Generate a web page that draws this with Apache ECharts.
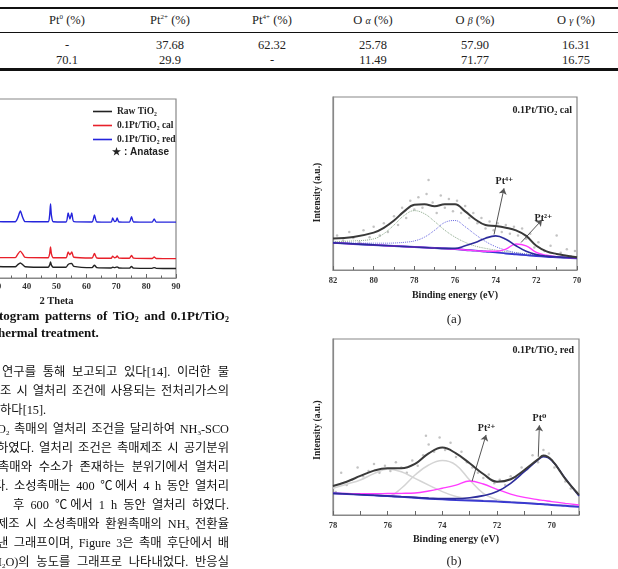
<!DOCTYPE html>
<html>
<head>
<meta charset="utf-8">
<script src="https://cdn.jsdelivr.net/npm/echarts@6/dist/echarts.min.js"></script>
<style>
body{margin:0;width:618px;height:569px;overflow:hidden;background:#fff;position:relative;}
.rule{position:absolute;left:0;width:618px;background:#111;}
.cell{position:absolute;width:100px;text-align:center;font-family:"Liberation Serif",serif;font-size:12.5px;color:#222;line-height:12px;}
.cell sup{font-size:7px;vertical-align:5px;line-height:0;}
.cell i{font-size:10px;}
.chart{position:absolute;}
.cap{position:absolute;font-family:"Liberation Serif",serif;font-weight:bold;font-size:13px;color:#111;line-height:14px;white-space:nowrap;}
.cap sub{font-size:8px;vertical-align:-2px;line-height:0;}
.kr{position:absolute;font-family:"Liberation Serif","Noto Sans CJK KR",serif;font-size:12.3px;color:#111;line-height:13px;white-space:nowrap;}
.kr sub{font-size:7px;vertical-align:-2px;line-height:0;}
.j{text-align:justify;text-align-last:justify;}
.lab{position:absolute;font-family:"Liberation Serif",serif;font-size:13px;color:#222;line-height:14px;width:40px;text-align:center;}
</style>
</head>
<body>
<div class="rule" style="top:7px;height:2px"></div>
<div class="rule" style="top:32px;height:1px"></div>
<div class="rule" style="top:68px;height:3px"></div>
<div id="tbl"></div>

<div id="xrd" class="chart" style="left:-90px;top:80px;width:290px;height:235px"></div>
<div id="xpsA" class="chart" style="left:300px;top:80px;width:310px;height:232px"></div>
<div id="xpsB" class="chart" style="left:300px;top:320px;width:310px;height:232px"></div>

<div class="cap j" style="left:-1px;top:309px;width:230px">togram patterns of TiO<sub>2</sub> and 0.1Pt/TiO<sub>2</sub></div>
<div class="cap" style="left:-2px;top:326px">hermal treatment.</div>

<div class="kr j" style="left:2px;top:366px;width:227px">연구를 통해 보고되고 있다[14]. 이러한 물</div>
<div class="kr j" style="left:0px;top:385px;width:229px">조 시 열처리 조건에 사용되는 전처리가스의</div>
<div class="kr" style="left:0px;top:404px">하다[15].</div>
<div class="kr j" style="left:-3px;top:423px;width:232px">O<sub>2</sub> 촉매의 열처리 조건을 달리하여 NH<sub>3</sub>-SCO</div>
<div class="kr j" style="left:-3px;top:442px;width:232px">하였다. 열처리 조건은 촉매제조 시 공기분위</div>
<div class="kr j" style="left:-2px;top:461px;width:231px">촉매와 수소가 존재하는 분위기에서 열처리</div>
<div class="kr j" style="left:-6px;top:480px;width:235px">다. 소성촉매는 400 ℃에서 4 h 동안 열처리</div>
<div class="kr j" style="left:13px;top:499px;width:216px">후 600 ℃에서 1 h 동안 열처리 하였다.</div>
<div class="kr j" style="left:-3px;top:518px;width:232px">제조 시 소성촉매와 환원촉매의 NH<sub>3</sub> 전환율</div>
<div class="kr j" style="left:-3px;top:537px;width:232px">낸 그래프이며, Figure 3은 촉매 후단에서 배</div>
<div class="kr j" style="left:-7px;top:556px;width:236px">H<sub>2</sub>O)의 농도를 그래프로 나타내었다. 반응실</div>

<div class="lab" style="left:434px;top:312px">(a)</div>
<div class="lab" style="left:434px;top:554px">(b)</div>

<script>
// table
const tableHead = ['Pt<sup>0</sup> (%)', 'Pt<sup>2+</sup> (%)', 'Pt<sup>4+</sup> (%)', 'O <i>α</i> (%)', 'O <i>β</i> (%)', 'O <i>γ</i> (%)'];
const tableCal = ['-', '37.68', '62.32', '25.78', '57.90', '16.31'];
const tableRed = ['70.1', '29.9', '-', '11.49', '71.77', '16.75'];
const colX = [67, 170, 272, 373, 475, 576];

// XRD
const twoTheta = [10, 20, 24.6, 25.3, 26.0, 30, 36.2, 37.0, 37.9, 38.7, 39.5, 47.2, 47.7, 48.0, 48.3, 48.9, 53.2, 53.9, 54.5, 55.1, 55.8, 61.9, 62.7, 63.5, 68.3, 68.8, 69.4, 69.9, 70.3, 70.9, 74.4, 75.1, 75.8, 82.0, 82.7, 83.4, 90];
const rawTiO2 = [7, 6.8, 7.5, 14, 7.5, 6.4, 6.3, 7.4, 8.4, 7.4, 6.3, 6.0, 7.2, 8.9, 7.2, 6.0, 6.0, 7.6, 8.0, 8.1, 6.5, 5.8, 7.2, 5.8, 5.6, 6.0, 5.8, 6.0, 6.2, 5.6, 5.5, 6.5, 5.5, 5.4, 5.8, 5.4, 5.3];
const calTiO2 = [11.8, 11.6, 12.5, 30, 12.5, 11.4, 11.4, 13.2, 15, 13.3, 11.5, 11.3, 13.5, 17.3, 13.5, 11.3, 11.3, 14.5, 13, 14.5, 11.6, 11.2, 13.7, 11.2, 11, 12.2, 11.3, 11.5, 12.3, 11.1, 11, 12.6, 11.1, 10.9, 11.7, 10.9, 10.8];
const redTiO2 = [31.6, 31.5, 33, 70, 33, 31.5, 31.4, 33.5, 37.4, 33.8, 31.5, 31.4, 35, 41.3, 35, 31.4, 31.3, 36.3, 33, 36.3, 31.5, 31.3, 35.2, 31.3, 31.2, 33.5, 31.6, 31.8, 33.5, 31.3, 31.2, 34.3, 31.3, 31.2, 33, 31.2, 31.2];

// XPS (a) 0.1Pt/TiO2 cal
const beA = [82, 81, 80, 79.5, 79, 78.5, 78, 77.5, 77, 76.5, 76, 75.5, 75, 74.5, 74, 73.5, 73, 72.5, 72, 71.5, 71, 70.5, 70];
const envA = [18.2, 19.1, 21.6, 24.4, 28.6, 33.9, 37.7, 38, 36.8, 38, 38, 33.9, 29.2, 26, 25.4, 24.4, 22.9, 19.7, 14, 10.8, 9.3, 8.3, 7.4];
const baseA = [15.7, 15.1, 14.5, 14.2, 13.9, 13.6, 13.3, 13, 12.7, 12.4, 12.1, 11.6, 11.2, 10.7, 10.2, 9.6, 9.1, 8.6, 8.1, 7.7, 7.4, 7.1, 6.8];
const pt2A = [15.7, 15.1, 14.5, 14.2, 13.9, 13.6, 13.3, 13, 12.7, 12.4, 12.1, 11.6, 11.2, 10.8, 10.8, 12.1, 15, 14, 10.2, 8.5, 7.6, 7.2, 6.9];
const pt4A = [15.7, 15.1, 14.5, 14.2, 13.9, 13.6, 13.3, 13, 12.7, 12.5, 12.5, 14, 15.9, 18.4, 19.7, 17.8, 14, 10.8, 8.9, 8, 7.6, 7.2, 6.9];
const fitG = [16.5, 16.8, 18, 21, 26, 31.5, 34.3, 32.5, 28, 23, 19, 16, 13.8, 12.5, 11.5, 10.7, 10, 9.3, 8.6, 8.1, 7.6, 7.2, 6.9];
const fitB = [16, 15.6, 15.5, 15.5, 15.6, 16, 16.8, 19, 23, 27.5, 28.6, 25, 20.5, 16.5, 13.5, 11.5, 10, 9.2, 8.5, 8, 7.6, 7.2, 6.9];
const rawA = [[81.8,20],[81.5,17],[81.2,22],[81,18.5],[80.7,16],[80.5,23],[80.2,19],[80,25],[79.7,20],[79.5,27],[79.3,22],[79,31],[78.8,26],[78.6,36],[78.4,30],[78.2,40],[78,35],[77.8,42],[77.6,36],[77.4,44],[77.3,52],[77.1,39],[76.9,33],[76.7,43],[76.5,36],[76.3,41],[76.1,34],[75.9,40],[75.7,33],[75.5,37],[75.3,30],[75.1,33],[74.9,27],[74.7,30],[74.5,24],[74.3,28],[74.1,23],[73.9,27],[73.7,22],[73.5,26],[73.3,21],[73.1,25],[72.9,20],[72.7,24],[72.5,18],[72.3,21],[72.1,13],[71.9,16],[71.6,11],[71.3,14],[71,20],[70.8,10],[70.5,12],[70.3,8],[70.1,11]];

// XPS (b) 0.1Pt/TiO2 red
const beB = [78, 77.5, 77, 76.5, 76, 75.5, 75, 74.5, 74, 73.5, 73, 72.5, 72, 71.5, 71, 70.5, 70.3, 70, 69.5, 69];
const envB = [16.5, 18.9, 22.2, 25.2, 26.5, 26.5, 29, 35, 38.3, 35, 29.4, 23.3, 18.9, 20.3, 25.6, 31.6, 33.8, 31.3, 20.5, 11.4];
const baseB = [12.3, 12, 11.6, 11.2, 10.8, 10.3, 9.8, 9.3, 8.9, 8.5, 8.2, 7.9, 7.6, 7.2, 6.8, 6.3, 6.1, 5.7, 5.2, 4.7];
const pt2B = [12.3, 12.2, 12.1, 12.1, 12.2, 12.3, 12.5, 13.6, 15.2, 17, 19.3, 17.6, 14.6, 11.9, 10, 8.7, 8.3, 7.6, 6.6, 5.7];
const pt0B = [12.3, 12, 11.6, 11.2, 10.8, 10.4, 10, 9.6, 9.3, 9.3, 9.8, 11, 13.3, 18, 24.6, 31.3, 33.1, 31, 20.8, 10.8];
const fitC = [15.2, 17.5, 19.9, 23.5, 26.1, 24.6, 20.8, 17, 13.3, 10.5, 9, 8.3, 7.8, 7.3, 6.9, 6.4, 6.2, 5.9, 5.4, 4.9];
const fitD = [12.3, 12, 11.6, 11.2, 10.6, 15.2, 22.7, 28.4, 30.9, 28.4, 19.9, 12.3, 8.7, 7.5, 6.9, 6.4, 6.2, 5.8, 5.3, 4.8];
const rawB = [[77.9,13],[77.7,24],[77.5,17],[77.3,20],[77.1,27],[76.9,22],[76.7,25],[76.5,29],[76.3,24],[76.1,28],[75.9,25],[75.7,30],[75.5,27],[75.3,24],[75.1,31],[74.9,28],[74.7,34],[74.6,45],[74.5,40],[74.3,36],[74.1,44],[73.9,37],[73.7,41],[73.5,33],[73.3,36],[73.1,30],[72.9,27],[72.7,24],[72.5,21],[72.3,23],[72.1,18],[71.9,20],[71.7,17],[71.5,22],[71.3,21],[71.1,27],[70.9,26],[70.7,34],[70.5,30],[70.3,37],[70.1,35],[69.9,27],[69.7,25],[69.5,19],[69.3,15],[69.1,13]];

function renderTable(){
	let html = '';
	[tableHead, tableCal, tableRed].forEach(function(row, r){
		let top = [14, 39, 54][r];
		row.forEach(function(txt, c){
			html += '<div class="cell" style="left:' + (colX[c] - 50) + 'px;top:' + top + 'px">' + txt + '</div>';
		});
	});
	document.getElementById('tbl').innerHTML = html;
}

const serif = '"Liberation Serif", "DejaVu Serif", serif';

function zip(xs, ys){
	return xs.map(function(x, i){ return [x, ys[i]]; });
}

function line(name, xs, ys, color, width, type, z){
	return {
		name: name, type: 'line', data: zip(xs, ys), symbol: 'none', smooth: 0.4, z: z,
		itemStyle: {color: color},
		lineStyle: {color: color, width: width, type: type || 'solid'}
	};
}

function initXrd(){
	let chart = echarts.init(document.getElementById('xrd'));
	let option = {
		animation: false,
		grid: {left: 27, right: 24, top: 19, bottom: 37, show: true, borderColor: '#888', borderWidth: 1.2},
		legend: {
			orient: 'vertical', left: 183, top: 26, itemWidth: 19, itemHeight: 1.6, itemGap: 3, padding: 0,
			icon: 'rect',
			textStyle: {fontFamily: serif, fontWeight: 'bold', fontSize: 9.5, color: '#222', lineHeight: 11},
			data: ['Raw TiO₂', '0.1Pt/TiO₂ cal', '0.1Pt/TiO₂ red']
		},
		graphic: [{
			type: 'text', right: 31, top: 67,
			style: {text: '★ : Anatase', font: 'bold 10px "Liberation Sans", Arial, sans-serif', fill: '#222'}
		}],
		xAxis: {
			type: 'value', min: 10, max: 90, interval: 10,
			name: '2 Theta', nameLocation: 'middle', nameGap: 17,
			nameTextStyle: {fontFamily: serif, fontWeight: 'bold', fontSize: 10.5, color: '#222'},
			axisLine: {lineStyle: {color: '#888', width: 1.2}},
			axisTick: {inside: true, length: 4, lineStyle: {color: '#666'}},
			minorTick: {show: true, splitNumber: 2, length: 2.5, lineStyle: {color: '#666'}},
			axisLabel: {margin: 4, fontFamily: serif, fontWeight: 'bold', fontSize: 9, color: '#333'},
			splitLine: {show: false}
		},
		yAxis: {
			type: 'value', min: 0, max: 100,
			axisLine: {show: true, lineStyle: {color: '#888'}}, axisTick: {show: false},
			axisLabel: {show: false}, splitLine: {show: false}
		},
		series: [
			line('Raw TiO₂', twoTheta, rawTiO2, '#222', 1.4),
			line('0.1Pt/TiO₂ cal', twoTheta, calTiO2, '#e8202a', 1.4),
			line('0.1Pt/TiO₂ red', twoTheta, redTiO2, '#2424dc', 1.4)
		]
	};
	option.series.forEach(function(s){ s.smooth = 0.2; });
	chart.setOption(option);
}

function arrow(label, from, to){
	return [
		{coord: from, label: {formatter: label}},
		{coord: to}
	];
}

function xpsOption(cfg){
	return {
		animation: false,
		grid: {left: 33, right: cfg.right, top: cfg.top, bottom: cfg.bottom, show: true, borderColor: '#888', borderWidth: 1.2},
		title: {
			text: cfg.title, right: cfg.titleRight, top: 25, padding: 0,
			textStyle: {fontFamily: serif, fontWeight: 'bold', fontSize: 10, color: '#222'}
		},
		xAxis: {
			type: 'value', inverse: true, min: cfg.min, max: cfg.max, interval: cfg.interval,
			name: 'Binding energy (eV)', nameLocation: 'middle', nameGap: cfg.nameGap,
			nameTextStyle: {fontFamily: serif, fontWeight: 'bold', fontSize: 10, color: '#222'},
			axisLine: {lineStyle: {color: '#888', width: 1.2}},
			axisTick: {inside: true, length: 4, lineStyle: {color: '#666'}},
			minorTick: {show: cfg.minor, splitNumber: 2, length: 3, lineStyle: {color: '#666'}},
			axisLabel: {margin: 6, fontFamily: serif, fontWeight: 'bold', fontSize: 8.5, color: '#333', formatter: cfg.fmt},
			splitLine: {show: false}
		},
		yAxis: {
			type: 'value', min: 0, max: 100,
			name: 'Intensity (a.u.)', nameLocation: 'middle', nameGap: 10,
			nameTextStyle: {fontFamily: serif, fontWeight: 'bold', fontSize: 9.5, color: '#222', padding: cfg.namePad},
			axisLine: {show: true, lineStyle: {color: '#888', width: 1.2}}, axisTick: {show: false},
			axisLabel: {show: false}, splitLine: {show: false}
		},
		series: cfg.series
	};
}

function initXpsA(){
	let chart = echarts.init(document.getElementById('xpsA'));
	let env = line('envelope', beA, envA, '#3a3a3a', 2, 'solid', 9);
	env.markLine = {
		silent: true, symbol: ['none', 'arrow'], symbolSize: 6,
		lineStyle: {color: '#555', width: 1, type: 'solid'},
		label: {position: 'end', distance: 2, fontFamily: serif, fontWeight: 'bold', fontSize: 10, color: '#222'},
		data: [arrow('Pt⁴⁺', [74.08, 20.5], [73.59, 47.2]), arrow('Pt²⁺', [72.75, 15.9], [71.72, 29])]
	};
	let series = [
		{type: 'scatter', data: rawA, symbolSize: 2.5, itemStyle: {color: '#b4b4b4'}, z: 1},
		line('fit1', beA, fitG, '#8aa88a', 1, 'dotted', 2),
		line('fit2', beA, fitB, '#6a6ae0', 1, 'dotted', 2),
		line('background', beA, baseA, '#3a3ad0', 2, 'solid', 3),
		line('Pt2+', beA, pt2A, '#ff3cff', 1.4, 'solid', 4),
		line('Pt4+', beA, pt4A, '#2c2c9c', 1.6, 'solid', 5),
		env
	];
	chart.setOption(xpsOption({
		right: 33, top: 17, bottom: 42, min: 70, max: 82, interval: 2, minor: true, nameGap: 20,
		namePad: [0, 18, 0, 0],
		title: '0.1Pt/TiO₂ cal', titleRight: 38, series: series
	}));
}

function initXpsB(){
	let chart = echarts.init(document.getElementById('xpsB'));
	let env = line('envelope', beB, envB, '#3a3a3a', 2, 'solid', 9);
	env.markLine = {
		silent: true, symbol: ['none', 'arrow'], symbolSize: 6,
		lineStyle: {color: '#555', width: 1, type: 'solid'},
		label: {position: 'end', distance: 2, fontFamily: serif, fontWeight: 'bold', fontSize: 10, color: '#222'},
		data: [arrow('Pt²⁺', [72.91, 19.3], [72.40, 45.5]), arrow('Pt⁰', [70.49, 33.1], [70.45, 51])]
	};
	let series = [
		{type: 'scatter', data: rawB, symbolSize: 2.5, itemStyle: {color: '#b4b4b4'}, z: 1},
		line('fit1', beB, fitC, '#d4d4d4', 1.5, 'solid', 2),
		line('fit2', beB, fitD, '#d4d4d4', 1.5, 'solid', 2),
		line('background', beB, baseB, '#3a3ad0', 2, 'solid', 3),
		line('Pt2+', beB, pt2B, '#ff3cff', 1.4, 'solid', 4),
		line('Pt0', beB, pt0B, '#2c2c9c', 1.6, 'solid', 5),
		env
	];
	chart.setOption(xpsOption({
		right: 31, top: 19, bottom: 37, min: 69, max: 78, interval: 1, minor: false, nameGap: 19,
		namePad: [0, 6, 0, 0],
		fmt: function(v){ return v % 2 === 0 ? v : ''; },
		title: '0.1Pt/TiO₂ red', titleRight: 36, series: series
	}));
}

function init(){
	renderTable();
	initXrd();
	initXpsA();
	initXpsB();
}
init();
</script>
</body>
</html>
